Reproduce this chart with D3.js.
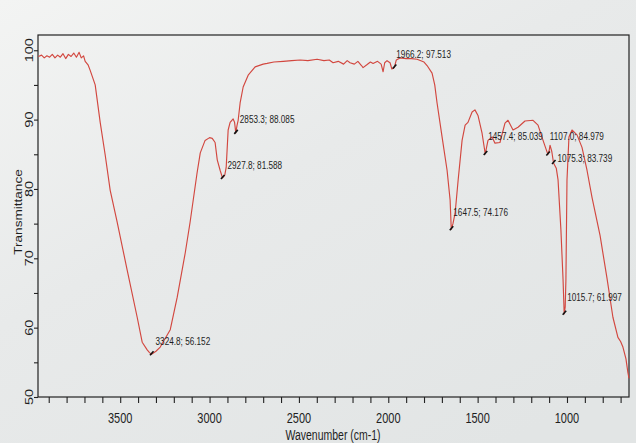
<!DOCTYPE html>
<html>
<head>
<meta charset="utf-8">
<script src="https://cdn.jsdelivr.net/npm/d3@7"></script>
<style>
  html, body { margin: 0; padding: 0; background: #eceeed; }
  svg { display: block; }
  text { font-family: "Liberation Sans", Arial, sans-serif; fill: #1e1e1e; }
</style>
</head>
<body>
<svg id="chart" width="636" height="443"></svg>
<script>
// FTIR spectrum: wavenumber (cm-1) against transmittance (%)
const wavenumbers = [
  3958, 3940, 3925, 3910, 3895, 3880, 3865, 3850, 3835, 3820, 3805, 3790, 3775, 3760,
  3745, 3730, 3718, 3705, 3696, 3680, 3668, 3640, 3612, 3584, 3556, 3517, 3461, 3405,
  3377, 3349, 3336, 3324.8, 3300, 3276, 3220, 3181, 3136, 3109, 3070, 3052, 3025, 3000,
  2985, 2969, 2957, 2941, 2927.8, 2915, 2907, 2896, 2885, 2868, 2860, 2853.3, 2846, 2840,
  2829, 2812, 2784, 2745, 2700, 2678, 2640, 2588, 2540, 2493, 2450, 2398, 2360, 2330,
  2309, 2280, 2250, 2230, 2214, 2190, 2170, 2150, 2141, 2120, 2100, 2085, 2060, 2040,
  2029, 2020, 2007, 1990, 1980, 1966.2, 1955, 1934, 1900, 1870, 1839, 1800, 1783, 1755,
  1740, 1727, 1699, 1671, 1654, 1647.5, 1638, 1626, 1609, 1587, 1570, 1554, 1531, 1515,
  1498, 1475, 1457.4, 1450, 1442, 1419, 1403, 1375, 1347, 1330, 1302, 1274, 1235, 1190,
  1162, 1134, 1107.0, 1100, 1095, 1085, 1075.3, 1060, 1050, 1034, 1022, 1015.7, 1010, 1006,
  1000, 989, 972, 944, 916, 888, 860, 815, 776, 743, 715, 700, 687, 670, 659, 653
];
const transmittance = [
  99.1, 99.3, 98.9, 99.2, 99.0, 99.4, 98.9, 99.3, 99.0, 99.5, 98.8, 99.4, 99.1, 99.6,
  99.0, 99.7, 98.9, 99.2, 98.4, 97.9, 97.1, 95.0, 89.6, 84.9, 79.8, 75.2, 68.3, 61.5,
  57.9, 56.8, 56.4, 56.152, 56.6, 57.2, 59.7, 64.4, 70.8, 75.2, 82.3, 85.2, 87.0, 87.4,
  87.3, 86.7, 84.2, 82.7, 81.588, 82.0, 83.1, 88.5, 89.6, 90.1, 89.6, 88.085, 89.2, 89.9,
  92.4, 94.7, 96.4, 97.6, 98.0, 98.1, 98.3, 98.4, 98.5, 98.6, 98.5, 98.7, 98.5, 98.6,
  98.2, 98.4, 98.0, 98.5, 98.2, 98.0, 98.4, 97.8, 97.5, 97.9, 98.3, 98.1, 98.4, 98.0,
  96.9, 98.2, 98.5, 98.2, 97.3, 97.513, 98.6, 98.9, 98.8, 98.8, 98.7, 98.3, 97.8, 96.7,
  95.0, 92.4, 87.5, 82.7, 78.4, 74.176, 75.0, 76.5, 81.3, 87.0, 89.2, 89.6, 91.1, 91.4,
  90.6, 88.0, 85.039, 86.0, 87.0, 87.5, 86.6, 86.7, 89.5, 89.9, 88.5, 88.9, 89.8, 89.9,
  89.2, 87.0, 84.979, 85.5, 86.3, 85.4, 83.739, 83.0, 81.3, 74.1, 66.9, 61.997, 63.0, 66.9,
  81.3, 87.5, 88.5, 87.8, 86.0, 82.7, 78.8, 73.3, 67.1, 61.5, 58.6, 58.0, 57.2, 55.5, 53.5, 52.7
];

// Picked peaks with their labels
const peakWavenumbers = [3324.8, 2927.8, 2853.3, 1966.2, 1647.5, 1457.4, 1107.0, 1075.3, 1015.7];
const peakValues      = [56.152, 81.588, 88.085, 97.513, 74.176, 85.039, 84.979, 83.739, 61.997];
// label placement relative to the peak marker [dx, dy]
const peakLabelOffsets = [[4, -9], [5, -9], [4, -10], [2, -10], [2, -13], [3, -14], [2, -14], [4, -1], [3, -13]];

const xTickLabels = [3500, 3000, 2500, 2000, 1500, 1000];
const yTickLabels = [50, 60, 70, 80, 90, 100];

const svg = d3.select("#chart");
const W = 636, H = 443;
const plot = { left: 38, right: 629, top: 35, bottom: 397 };
const TEXT_STRETCH = 1.32;

// paper background
const defs = svg.append("defs");
const bg = defs.append("linearGradient").attr("id", "paper")
  .attr("x1", "0").attr("y1", "0").attr("x2", "0.8").attr("y2", "1");
bg.append("stop").attr("offset", "0").attr("stop-color", "#f3f4f3");
bg.append("stop").attr("offset", "0.45").attr("stop-color", "#e8eaea");
bg.append("stop").attr("offset", "1").attr("stop-color", "#e2e5e5");
svg.append("rect").attr("width", W).attr("height", H).attr("fill", "url(#paper)");

const x = d3.scaleLinear().domain([3960, 653]).range([plot.left, plot.right]);
const y = d3.scaleLinear().domain([50, 102.2]).range([plot.bottom, plot.top]);

// axes (ticks only; the frame is drawn separately)
const xAxis = d3.axisBottom(x)
  .tickValues(d3.range(700, 3901, 100))
  .tickSize(6).tickFormat("");
svg.append("g").attr("transform", `translate(0,${plot.bottom})`).call(xAxis)
  .call(g => g.select(".domain").remove())
  .call(g => g.selectAll("line").attr("stroke", "#222").attr("stroke-width", 1.1));

const yAxis = d3.axisLeft(y)
  .tickValues(d3.range(50, 101, 5))
  .tickSize(4).tickFormat("");
svg.append("g").attr("transform", `translate(${plot.left},0)`).call(yAxis)
  .call(g => g.select(".domain").remove())
  .call(g => g.selectAll("line").attr("stroke", "#222").attr("stroke-width", 1.1));

// frame
svg.append("rect")
  .attr("x", plot.left).attr("y", plot.top)
  .attr("width", plot.right - plot.left).attr("height", plot.bottom - plot.top)
  .attr("fill", "none").attr("stroke", "#222").attr("stroke-width", 1.2);

// tick labels
svg.append("g").selectAll("g").data(xTickLabels).join("g")
  .attr("transform", d => `translate(${x(d)},${plot.bottom + 26}) scale(1,${TEXT_STRETCH})`)
  .append("text").attr("text-anchor", "middle").attr("font-size", 11).text(d => d);

svg.append("g").selectAll("g").data(yTickLabels).join("g")
  .attr("transform", d => `translate(${plot.left - 5},${y(d)}) scale(1,${TEXT_STRETCH}) rotate(-90)`)
  .append("text").attr("text-anchor", "middle").attr("font-size", 11).text(d => d);

// axis titles
svg.append("g")
  .attr("transform", `translate(333,${H - 3}) scale(1,${TEXT_STRETCH})`)
  .append("text").attr("text-anchor", "middle").attr("font-size", 10.5).text("Wavenumber (cm-1)");
svg.append("g")
  .attr("transform", `translate(22,212) scale(1,${TEXT_STRETCH}) rotate(-90)`)
  .append("text").attr("text-anchor", "middle").attr("font-size", 10.3).text("Transmittance");

// spectrum
const spectrum = wavenumbers.map((w, i) => [w, transmittance[i]]);
const line = d3.line().x(d => x(d[0])).y(d => y(d[1]));
svg.append("path").datum(spectrum)
  .attr("d", line)
  .attr("fill", "none").attr("stroke", "#d2473f").attr("stroke-width", 1.15)
  .attr("stroke-linejoin", "round");

// peak markers and labels
const peaks = peakWavenumbers.map((w, i) => ({ w, v: peakValues[i], off: peakLabelOffsets[i] }));
const pk = svg.append("g").selectAll("g").data(peaks).join("g");
pk.append("line")
  .attr("x1", d => x(d.w) - 1.5).attr("y1", d => y(d.v) + 1)
  .attr("x2", d => x(d.w) + 2).attr("y2", d => y(d.v) - 3)
  .attr("stroke", "#111").attr("stroke-width", 1.6);
pk.append("g")
  .attr("transform", d => `translate(${x(d.w) + d.off[0]},${y(d.v) + d.off[1]}) scale(1,${TEXT_STRETCH})`)
  .append("text").attr("font-size", 8.2)
  .text(d => `${d.w.toFixed(1)}; ${d.v.toFixed(3)}`);
</script>
</body>
</html>
